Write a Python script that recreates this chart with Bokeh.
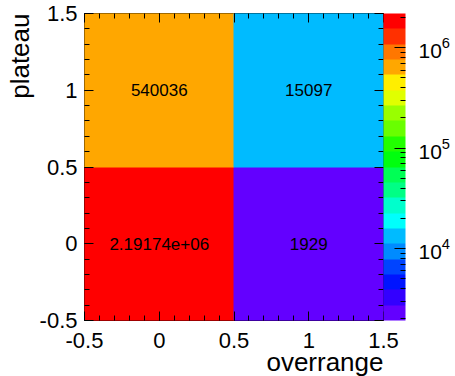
import colorsys
from bokeh.plotting import figure
from bokeh.models import (ColumnDataSource, LogColorMapper, ColorBar, FixedTicker,
                          LogTickFormatter, LinearAxis, SingleIntervalTicker, Title)
from bokeh.core.properties import value
from bokeh.transform import transform
from bokeh.embed import file_html
from bokeh.resources import INLINE

# ---- data ----
x_bin_centers = [0, 1, 0, 1]
y_bin_centers = [0, 0, 1, 1]
counts = [2191740, 1929, 540036, 15097]
axis_ticks = [-0.5, 0, 0.5, 1, 1.5]
axis_tick_labels = ["-0.5", "0", "0.5", "1", "1.5"]
cbar_major_ticks = [1e4, 1e5, 1e6]
x_title = "overrange"
y_title = "plateau"

FONT = "Liberation Sans"

# ROOT "pretty" palette (50 colours, violet -> red) sampled at 20 contour levels
n_pal, n_lev = 50, 20
pretty = []
for i in range(n_pal):
    hue = 280 - (i + 1) * 280 / n_pal
    r, g, b = colorsys.hls_to_rgb(hue / 360.0, 0.5, 1.0)
    pretty.append("#%02x%02x%02x" % (round(r * 255), round(g * 255), round(b * 255)))
palette = [pretty[int((k + 0.99) * n_pal / n_lev)] for k in range(n_lev)]

zmin, zmax = min(counts), max(counts)
mapper = LogColorMapper(palette=palette, low=zmin, high=zmax)

cbar_minor_ticks = [m * 10 ** e for e in range(3, 7) for m in range(2, 10)
                    if zmin <= m * 10 ** e <= zmax]

source = ColumnDataSource(dict(
    x=x_bin_centers, y=y_bin_centers, count=counts,
    label=["%g" % c for c in counts],
))

p = figure(width=455, height=376, x_range=(-0.5, 1.5), y_range=(-0.5, 1.5),
           output_backend="svg", toolbar_location=None,
           min_border_left=80, min_border_right=72, min_border_top=13, min_border_bottom=56)
p.grid.visible = False
p.outline_line_color = "black"
p.outline_line_width = 1
p.outline_line_alpha = 1.0
p.background_fill_color = "white"
p.border_fill_color = "white"

p.rect(x="x", y="y", width=1, height=1, source=source,
       fill_color=transform("count", mapper), line_color=transform("count", mapper), line_width=1)

p.text(x="x", y="y", text="label", source=source, text_align="center", text_baseline="middle",
       text_font=value(FONT), text_font_size="17px", text_color="black")

overrides = {t: l for t, l in zip(axis_ticks, axis_tick_labels)}


def style_axis(ax, show_labels=True, standoff=7):
    ax.ticker = SingleIntervalTicker(interval=0.5, num_minor_ticks=5)
    ax.axis_line_color = None
    ax.major_tick_in = 9
    ax.major_tick_out = 0
    ax.minor_tick_in = 5
    ax.minor_tick_out = 0
    ax.major_tick_line_color = "black"
    ax.minor_tick_line_color = "black"
    if show_labels:
        ax.major_label_overrides = overrides
        ax.major_label_text_font = FONT
        ax.major_label_text_font_size = "22px"
        ax.major_label_text_color = "black"
        ax.major_label_standoff = standoff
    else:
        ax.major_label_text_font_size = "0px"
        ax.major_label_text_color = None
        ax.major_label_standoff = 0


style_axis(p.xaxis[0], standoff=12)
style_axis(p.yaxis[0], standoff=7)

top_axis = LinearAxis()
right_axis = LinearAxis()
style_axis(top_axis, show_labels=False)
style_axis(right_axis, show_labels=False)
p.add_layout(top_axis, "above")
p.add_layout(right_axis, "right")

cb = ColorBar(color_mapper=mapper,
              ticker=FixedTicker(ticks=cbar_major_ticks, minor_ticks=cbar_minor_ticks),
              formatter=LogTickFormatter(),
              width=22, padding=0, margin=2, label_standoff=13,
              major_tick_in=11, major_tick_out=0, minor_tick_in=5, minor_tick_out=0,
              major_tick_line_color="black", minor_tick_line_color="black",
              bar_line_color=None, border_line_color=None, background_fill_color=None,
              major_label_text_font=FONT, major_label_text_font_size="21px",
              major_label_text_color="black")
p.add_layout(cb, "right")

xt = Title(text=x_title, align="right", vertical_align="top", offset=0,
           text_font=FONT, text_font_size="26px", text_font_style="normal", text_color="black")
try:
    xt.standoff = -7
except Exception:
    xt.standoff = 0
p.add_layout(xt, "below")

yt = Title(text=y_title, align="right", vertical_align="bottom", offset=0, standoff=4,
           text_font=FONT, text_font_size="26px", text_font_style="normal", text_color="black")
p.add_layout(yt, "left")

open("out.html", "w").write(file_html(p, INLINE))
